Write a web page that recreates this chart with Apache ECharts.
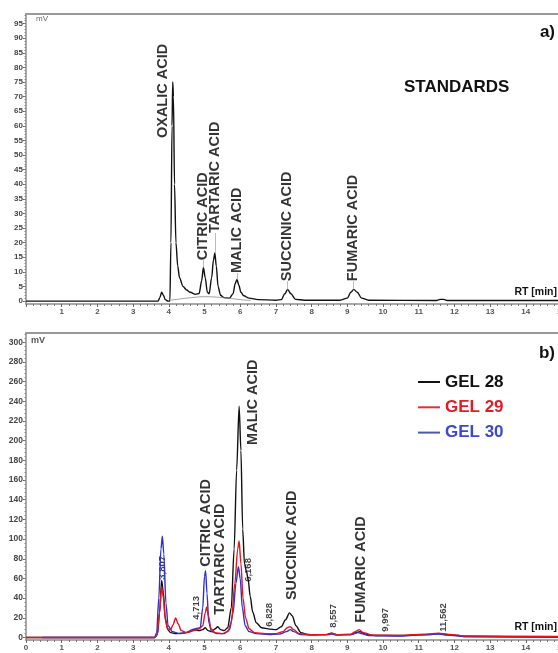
<!DOCTYPE html>
<html>
<head>
<meta charset="utf-8">
<script src="https://cdn.jsdelivr.net/npm/echarts@6/dist/echarts.min.js"></script>
<style>
html,body{margin:0;padding:0;background:#fff;}
#chart{width:558px;height:653px;}
</style>
</head>
<body>
<div id="chart"></div>
<script>
// ---------- DATA ----------
// Panel a) standards chromatogram: [RT min, mV]
const standards = [[0,0],[3.7,0],[3.75,1.2],[3.8,3],[3.85,2],[3.9,0.5],[3.98,0],[4.03,0],[4.06,20],[4.09,60],[4.11,75],[4.13,70],[4.16,40],[4.2,20],[4.25,12],[4.3,8],[4.4,5],[4.5,3.8],[4.6,3],[4.75,2.3],[4.85,2.6],[4.92,7],[4.97,11.5],[5.02,8],[5.08,3],[5.13,2.5],[5.2,8],[5.25,14],[5.29,16.5],[5.33,12],[5.38,5],[5.45,2],[5.55,1.2],[5.7,1],[5.8,2.5],[5.86,6],[5.91,7.4],[5.96,5.5],[6.02,3],[6.1,1.8],[6.25,1],[6.5,0.5],[7.0,0.3],[7.15,0.5],[7.25,2.5],[7.33,4],[7.42,2.5],[7.55,0.6],[7.8,0.3],[8.8,0.3],[9.0,1],[9.1,3],[9.18,4],[9.28,3],[9.4,1],[9.6,0.3],[11.5,0.2],[11.6,0.6],[11.7,0.6],[11.8,0.2],[15,0.2]];
const standardsBaseline = [[4.05,0.3],[4.5,1],[5.0,1.5],[5.5,1.2],[6.0,0.5],[6.3,0.2]];
const stdNames  = ['OXALIC ACID','CITRIC ACID','TARTARIC ACID','MALIC ACID','SUCCINIC ACID','FUMARIC ACID'];
const stdLabelRT = [3.84, 4.96, 5.30, 5.91, 7.32, 9.16];
const stdLabelMV = [55.8, 14, 23.3, 9.6, 6.8, 6.8];
const stdPeakMV  = [75, 11.5, 16.5, 7.4, 4, 4];

// Panel b) gel samples
const gel28 = [[0,0],[3.6,0],[3.68,3],[3.74,25],[3.8,58],[3.85,45],[3.9,20],[3.97,8],[4.05,5],[4.2,4],[4.4,4.5],[4.6,6],[4.71,8],[4.85,7],[4.95,8],[5.02,10],[5.1,7],[5.2,6],[5.3,9],[5.37,11],[5.45,8],[5.55,7],[5.65,10],[5.75,30],[5.83,90],[5.9,170],[5.97,235],[6.02,190],[6.07,110],[6.12,75],[6.17,68],[6.22,60],[6.28,42],[6.35,26],[6.45,15],[6.6,10],[6.83,8.5],[7.0,8],[7.15,11],[7.27,18],[7.38,25],[7.46,22],[7.56,12],[7.7,5],[7.9,3],[8.4,3],[8.56,4.5],[8.7,3],[9.1,3],[9.25,5],[9.35,6],[9.5,3.5],[9.8,2],[10.5,2],[11,3],[11.3,3],[11.56,4],[11.8,3],[12.1,2],[12.3,1],[15,0.5]];
const gel29 = [[0,0],[3.6,0],[3.68,3],[3.74,25],[3.8,52],[3.85,40],[3.9,18],[3.97,9],[4.05,8],[4.12,13],[4.19,20],[4.26,14],[4.35,7],[4.5,5],[4.7,7],[4.85,9],[4.95,12],[5.02,25],[5.06,31],[5.11,22],[5.18,9],[5.3,5],[5.5,4],[5.65,6],[5.75,15],[5.85,55],[5.93,90],[5.97,98],[6.02,75],[6.08,40],[6.15,20],[6.25,9],[6.4,5],[6.7,4],[7.0,4],[7.2,6],[7.32,10],[7.4,11],[7.5,8],[7.65,4],[8.0,3],[8.45,3],[8.56,4.5],[8.7,3],[9.1,3.5],[9.25,6.5],[9.33,8],[9.45,5],[9.7,2.5],[10.5,2],[10.8,3],[11.2,3.5],[11.56,4.5],[11.8,3.5],[12.1,2.5],[12.3,1.5],[15,1]];
const gel30 = [[0.45,0],[3.6,0],[3.66,5],[3.72,40],[3.78,90],[3.82,103],[3.86,85],[3.92,35],[3.98,12],[4.1,6],[4.3,4],[4.5,5],[4.65,8],[4.75,9],[4.88,10],[4.95,30],[5.0,62],[5.03,68],[5.07,45],[5.12,15],[5.2,6],[5.35,4],[5.55,4],[5.7,8],[5.8,25],[5.88,55],[5.95,72],[6.0,60],[6.06,30],[6.14,12],[6.25,6],[6.45,4],[6.8,3],[7.1,3.5],[7.3,6],[7.4,8],[7.5,6],[7.7,3],[8.0,2.5],[8.5,3],[8.56,3.5],[8.7,2.5],[9.1,3],[9.3,5],[9.4,4],[9.6,2],[10.5,1.5],[11.0,2.5],[11.56,3.5],[11.8,2.5],[12.3,1],[15,0.5]];
const gelNames = ['GEL 28','GEL 29','GEL 30'];
const acidNames  = ['CITRIC ACID','TARTARIC ACID','MALIC ACID','SUCCINIC ACID','FUMARIC ACID'];
const acidLabelRT = [5.03, 5.44, 6.35, 7.46, 9.38];
const acidLabelMV = [71.8, 23, 195.6, 38, 15];
const rtNames = ['3,807','4,713','6,168','6,828','8,557','9,997','11,562'];
const rtLabelRT = [3.83, 4.77, 6.23, 6.82, 8.60, 10.08, 11.70];
const rtLabelMV = [58.6, 18, 56.5, 10.9, 9.8, 5.8, 5.8];

// tick values
const ticksA = []; for (let v = 0; v <= 95; v += 5) ticksA.push(v);
const minorA = []; for (let v = 0; v <= 98; v += 1) minorA.push(v);
const ticksB = []; for (let v = 0; v <= 300; v += 20) ticksB.push(v);
const minorB = []; for (let v = 0; v <= 308; v += 4) minorB.push(v);

// ---------- CHART ----------
const FF = 'Liberation Sans, Arial, Helvetica, sans-serif';
const axisGrey = '#8c8c8c';
const C28 = '#111111', C29 = '#e3141e', C30 = '#2d2fd2';

function xAxisMain(grid, showZero) {
  return {
    type:'value', gridIndex:grid, min:0, max:15, interval:1, position:'bottom',
    axisLine:{show:true, onZero:false, lineStyle:{color:axisGrey, width:1.5}},
    axisTick:{show:true, length:3, lineStyle:{color:'#666'}},
    minorTick:{show:true, splitNumber:5, length:2, lineStyle:{color:'#777'}},
    splitLine:{show:false}, minorSplitLine:{show:false},
    axisLabel:{show:true, margin:4, fontSize:8, fontWeight:'bold', color:'#555', fontFamily:FF,
      showMaxLabel:true, hideOverlap:false,
      formatter: v => (v === 0 && !showZero) ? '' : String(v)}
  };
}
function xAxisTop(grid) {
  return {type:'value', gridIndex:grid, min:0, max:15, position:'top',
    axisLine:{show:true, onZero:false, lineStyle:{color:'#999', width:2}},
    axisTick:{show:false}, axisLabel:{show:false}, splitLine:{show:false}};
}
function yAxisMain(grid, min, max, ticks, fs) {
  return {type:'value', gridIndex:grid, min:min, max:max, position:'left',
    axisLine:{show:true, onZero:false, lineStyle:{color:axisGrey, width:1.5}},
    axisTick:{show:true, length:3, customValues:ticks, lineStyle:{color:'#666'}},
    axisLabel:{show:true, margin:3, customValues:ticks, fontSize:fs, fontWeight:'bold', color:'#444', fontFamily:FF},
    splitLine:{show:false}};
}
function yAxisMinor(grid, min, max, ticks) {
  return {type:'value', gridIndex:grid, min:min, max:max, position:'left',
    axisLine:{show:false}, axisLabel:{show:false},
    axisTick:{show:true, length:1.5, customValues:ticks, lineStyle:{color:'#888'}},
    splitLine:{show:false}};
}

const labelStyleBig = {show:true, formatter:p=>p.name, rotate:90, position:'top', distance:0,
  align:'left', verticalAlign:'middle', fontSize:14.5, fontWeight:'bold', color:'#000', fontFamily:FF};
const labelStyleSmall = Object.assign({}, labelStyleBig, {fontSize:9.5, color:'#111'});

const option = {
  animation:false,
  backgroundColor:'#ffffff',
  grid:[
    {left:26, right:-3.5, top:14, height:290, outerBoundsMode:'none', containLabel:false},
    {left:26, right:-3.5, top:333, height:307, outerBoundsMode:'none', containLabel:false}
  ],
  xAxis:[xAxisMain(0,false), xAxisTop(0), xAxisMain(1,true), xAxisTop(1)],
  yAxis:[
    yAxisMain(0, -1, 98.3, ticksA, 8), yAxisMinor(0, -1, 98.3, minorA),
    yAxisMain(1, -2.5, 309.3, ticksB, 8.5), yAxisMinor(1, -2.5, 309.3, minorB)
  ],
  legend:{
    show:true, orient:'vertical', left:413, top:368.5, itemWidth:22, itemHeight:2, itemGap:8.3,
    icon:'rect', selectedMode:false,
    textStyle:{fontSize:17, fontWeight:'bold', fontFamily:FF, lineHeight:17},
    data:[
      {name:gelNames[0], textStyle:{color:'#111'}},
      {name:gelNames[1], textStyle:{color:'#e31b23'}},
      {name:gelNames[2], textStyle:{color:'#3a48d2'}}
    ]
  },
  series:[
    {type:'line', name:'standards', xAxisIndex:0, yAxisIndex:0, data:standards, showSymbol:false,
      smooth:0.3, smoothMonotone:'x', lineStyle:{color:'#111', width:1.4}, silent:true},
    {type:'line', name:'baseline', xAxisIndex:0, yAxisIndex:0, data:standardsBaseline, showSymbol:false,
      smooth:0.4, lineStyle:{color:'#888', width:0.8}, silent:true},
    {type:'scatter', name:'stdLabels', xAxisIndex:0, yAxisIndex:0, symbolSize:0.1,
      itemStyle:{color:'rgba(0,0,0,0)'}, silent:true,
      data: stdNames.map((n,i)=>({name:n, value:[stdLabelRT[i], stdLabelMV[i]]})),
      label: labelStyleBig,
      markLine:{silent:true, symbol:['none','none'], label:{show:false},
        lineStyle:{color:'#aaa', width:0.8, type:'solid'},
        data: stdNames.slice(1).map((n,j)=>{const i=j+1; return [{coord:[stdLabelRT[i], stdLabelMV[i]]},{coord:[stdLabelRT[i], stdPeakMV[i]]}];})
      }
    },
    {type:'line', name:gelNames[0], xAxisIndex:2, yAxisIndex:2, data:gel28, showSymbol:false,
      smooth:0.3, smoothMonotone:'x', color:C28, lineStyle:{color:C28, width:1.4}},
    {type:'line', name:gelNames[2], xAxisIndex:2, yAxisIndex:2, data:gel30, showSymbol:false,
      smooth:0.3, smoothMonotone:'x', color:'#4b5aa8', lineStyle:{color:C30, width:1.4}},
    {type:'line', name:gelNames[1], xAxisIndex:2, yAxisIndex:2, data:gel29, showSymbol:false,
      smooth:0.3, smoothMonotone:'x', color:'#e0303a', lineStyle:{color:C29, width:1.4}},
    {type:'scatter', name:'acidLabels', xAxisIndex:2, yAxisIndex:2, symbolSize:0.1,
      itemStyle:{color:'rgba(0,0,0,0)'}, silent:true,
      data: acidNames.map((n,i)=>({name:n, value:[acidLabelRT[i], acidLabelMV[i]]})),
      label: labelStyleBig},
    {type:'scatter', name:'rtLabels', xAxisIndex:2, yAxisIndex:2, symbolSize:0.1,
      itemStyle:{color:'rgba(0,0,0,0)'}, silent:true,
      data: rtNames.map((n,i)=>({name:n, value:[rtLabelRT[i], rtLabelMV[i]]})),
      label: labelStyleSmall}
  ],
  graphic:[
    {type:'text', x:36, y:19, style:{text:'mV', font:'8px '+FF, fill:'#666', align:'left', verticalAlign:'middle'}},
    {type:'text', x:555, y:32, style:{text:'a)', font:'bold 17px '+FF, fill:'#111', align:'right', verticalAlign:'middle'}},
    {type:'text', x:404, y:87, style:{text:'STANDARDS', font:'bold 17px '+FF, fill:'#111', align:'left', verticalAlign:'middle'}},
    {type:'text', x:557, y:292, style:{text:'RT [min]', font:'bold 10.5px '+FF, fill:'#111', align:'right', verticalAlign:'middle'}},
    {type:'text', x:31, y:341, style:{text:'mV', font:'bold 9px '+FF, fill:'#555', align:'left', verticalAlign:'middle'}},
    {type:'text', x:555, y:353, style:{text:'b)', font:'bold 17px '+FF, fill:'#111', align:'right', verticalAlign:'middle'}},
    {type:'text', x:557, y:627, style:{text:'RT [min]', font:'bold 10.5px '+FF, fill:'#111', align:'right', verticalAlign:'middle'}}
  ]
};
const chart = echarts.init(document.getElementById('chart'), null, {renderer:'canvas'});
chart.setOption(option);
</script>
</body>
</html>
